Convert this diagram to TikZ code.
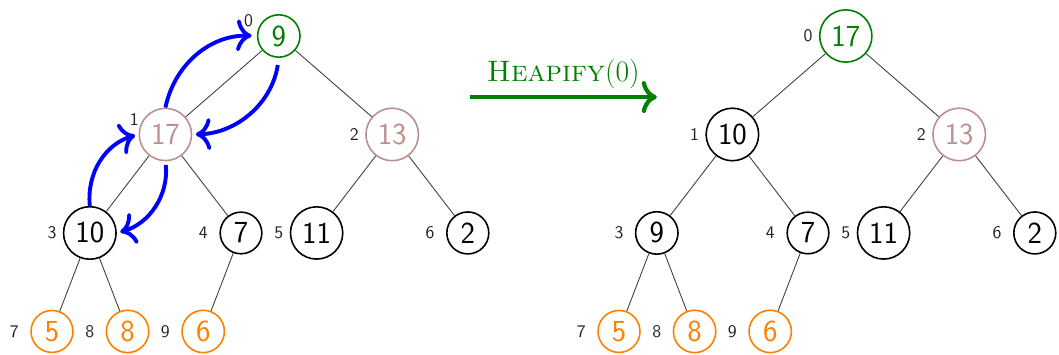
\documentclass[tikz,border=0pt]{standalone}
\usepackage{xcolor}
\definecolor{heapgreen}{HTML}{008000}
\definecolor{rosy}{HTML}{BC8F8F}
\definecolor{leaforange}{HTML}{FF8000}
\definecolor{idxgray}{HTML}{222222}
\usepackage{tikz}
\usetikzlibrary{arrows.meta}

\begin{document}
\begin{tikzpicture}[x=0.75cm, y=1.954cm]

%\draw[step=1cm] (-2,-4) grid (27, 1);
\useasboundingbox (-1.376, 0.3655) rectangle (26.64, -3.2335);

\tikzstyle{hkey}=[
	circle,
	draw,
	line width=0.9pt,
	inner sep=3.4pt,
	font=\sffamily\LARGE
]
\tikzstyle{hroot}=[hkey, draw=heapgreen, text=heapgreen]
\tikzstyle{hsub}=[hkey, draw=rosy, text=rosy]
\tikzstyle{hleaf}=[hkey, draw=leaforange, text=leaforange]
\tikzstyle{idx}=[font=\sffamily, text=idxgray]
\tikzstyle{edge}=[line width=0.5pt, black!75]
\tikzstyle{bigtip}=[-{Computer Modern Rightarrow[length=8.5pt, width=18pt]}]
\tikzstyle{swap}=[bigtip, blue, line width=2.2pt, bend left=40]

% before: the root key 9 is out of place
\node[hroot] (n0) at (6, 0) {9};
\node[hsub] (n1) at (3, -1) {17};
\node[hsub] (n2) at (9, -1) {13};
\node[hkey] (n3) at (1, -2) {10};
\node[hkey] (n4) at (5, -2) {7};
\node[hkey] (n5) at (7, -2) {11};
\node[hkey] (n6) at (11, -2) {2};
\node[hleaf] (n7) at (0, -3) {5};
\node[hleaf] (n8) at (2, -3) {8};
\node[hleaf] (n9) at (4, -3) {6};

\node[idx] (i0) at (5.2, 0.16) {0};
\node[idx] (i1) at (2.18, -0.85) {1};
\node[idx] (i2) at (8, -1) {2};
\node[idx] (i3) at (0, -2) {3};
\node[idx] (i4) at (4, -2) {4};
\node[idx] (i5) at (6, -2) {5};
\node[idx] (i6) at (10, -2) {6};
\node[idx] (i7) at (-1, -3) {7};
\node[idx] (i8) at (1, -3) {8};
\node[idx] (i9) at (3, -3) {9};

\draw[edge] (n0) -- (n1);
\draw[edge] (n0) -- (n2);
\draw[edge] (n1) -- (n3);
\draw[edge] (n1) -- (n4);
\draw[edge] (n2) -- (n5);
\draw[edge] (n2) -- (n6);
\draw[edge] (n3) -- (n7);
\draw[edge] (n3) -- (n8);
\draw[edge] (n4) -- (n9);

% the swaps done by sifting down
\draw[swap, shorten >=3pt] (n1.north) to (n0.west);
\draw[swap, shorten <=4pt, shorten >=2pt] (n0.south) to (n1.east);
\draw[swap, shorten >=2pt] (n3.north) to (n1.west);
\draw[swap, shorten <=2pt, shorten >=2pt] (n1.south) to (n3.east);

% the call
\coordinate (hfrom) at (11.05, -0.62);
\coordinate (hto) at (16, -0.62);
\draw[bigtip, heapgreen, line width=2.4pt] (hfrom) -- (hto)
	node[midway, above, text=heapgreen, font=\fontsize{16.7}{20}\selectfont] (call)
	{\textsc{Heapify}(0)};

% after
\node[hroot] (m0) at (21, 0) {17};
\node[hkey] (m1) at (18, -1) {10};
\node[hsub] (m2) at (24, -1) {13};
\node[hkey] (m3) at (16, -2) {9};
\node[hkey] (m4) at (20, -2) {7};
\node[hkey] (m5) at (22, -2) {11};
\node[hkey] (m6) at (26, -2) {2};
\node[hleaf] (m7) at (15, -3) {5};
\node[hleaf] (m8) at (17, -3) {8};
\node[hleaf] (m9) at (19, -3) {6};

\node[idx] (j0) at (20, 0) {0};
\node[idx] (j1) at (17, -1) {1};
\node[idx] (j2) at (23, -1) {2};
\node[idx] (j3) at (15, -2) {3};
\node[idx] (j4) at (19, -2) {4};
\node[idx] (j5) at (21, -2) {5};
\node[idx] (j6) at (25, -2) {6};
\node[idx] (j7) at (14, -3) {7};
\node[idx] (j8) at (16, -3) {8};
\node[idx] (j9) at (18, -3) {9};

\draw[edge] (m0) -- (m1);
\draw[edge] (m0) -- (m2);
\draw[edge] (m1) -- (m3);
\draw[edge] (m1) -- (m4);
\draw[edge] (m2) -- (m5);
\draw[edge] (m2) -- (m6);
\draw[edge] (m3) -- (m7);
\draw[edge] (m3) -- (m8);
\draw[edge] (m4) -- (m9);

\end{tikzpicture}
\end{document}
